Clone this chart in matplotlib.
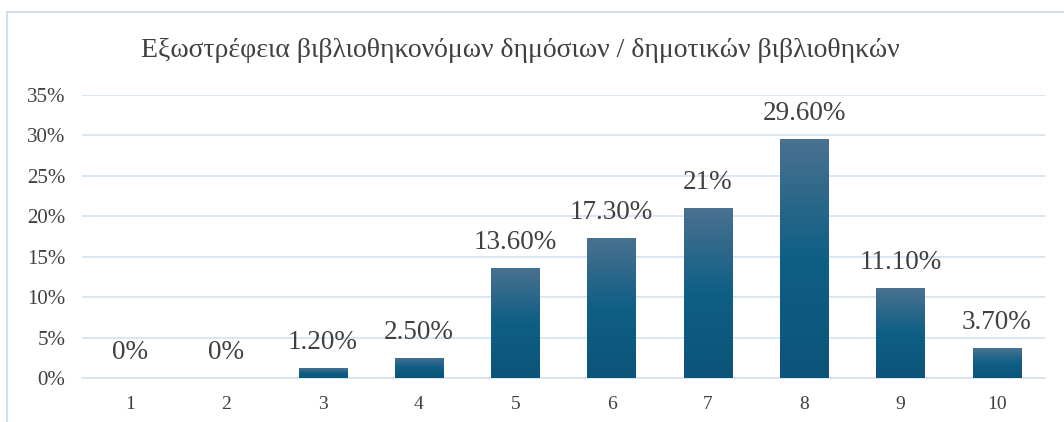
import matplotlib
matplotlib.use("Agg")
import matplotlib.pyplot as plt
import numpy as np
from matplotlib.colors import LinearSegmentedColormap
from matplotlib.patches import Rectangle

# data
categories = ["1", "2", "3", "4", "5", "6", "7", "8", "9", "10"]
values = [0, 0, 1.2, 2.5, 13.6, 17.3, 21, 29.6, 11.1, 3.7]
labels = ["0%", "0%", "1.20%", "2.50%", "13.60%", "17.30%", "21%", "29.60%", "11.10%", "3.70%"]
yticks = [0, 5, 10, 15, 20, 25, 30, 35]
title = "Εξωστρέφεια βιβλιοθηκονόμων δημόσιων / δημοτικών βιβλιοθηκών"

plt.rcParams['font.family'] = ['Liberation Serif', 'DejaVu Serif']
text_col = "#404040"
grid_col = "#d3e2f2"

fig = plt.figure(figsize=(10.64, 4.22), dpi=100)
ax = fig.add_axes([0.077, 0.104, 0.905, 0.671])

# outer frame like the office chart border
fig.patches.append(Rectangle((7 / 1064, -0.1), 1.2, 1.1 - 12 / 422, transform=fig.transFigure,
                             fill=False, edgecolor="#c5d9ee", linewidth=1.2))

x = np.arange(1, len(categories) + 1)
bars = ax.bar(x, values, width=0.5, color="none", zorder=3)

cmap = LinearSegmentedColormap.from_list("grad", ["#0c5479", "#0f5f85", "#4a7190"])
grad = np.linspace(0, 1, 256).reshape(-1, 1)
for b in bars:
    h = b.get_height()
    if h <= 0:
        continue
    x0 = b.get_x()
    im = ax.imshow(grad, extent=[x0, x0 + b.get_width(), 0, h], origin="lower",
                   cmap=cmap, aspect="auto", zorder=3)
    im.set_clip_path(b)

for xi, v, lab in zip(x, values, labels):
    ax.text(xi, v + 1.6, lab, ha="center", va="bottom", fontsize=19.5, color=text_col)

ax.set_xlim(0.5, 10.5)
ax.set_ylim(0, 35)
ax.set_yticks(yticks)
ax.set_yticklabels([f"{t}%" for t in yticks], fontsize=15, color=text_col)
ax.set_xticks(x)
ax.set_xticklabels(categories, fontsize=14, color=text_col)
ax.tick_params(length=0, pad=13)
ax.tick_params(axis="y", pad=12)
ax.grid(axis="y", color=grid_col, linewidth=1.2, zorder=0)
for s in ["top", "right", "left"]:
    ax.spines[s].set_visible(False)
ax.spines["bottom"].set_color(grid_col)
ax.spines["bottom"].set_linewidth(1.2)

fig.text(0.489, 0.88, title, ha="center", va="center", fontsize=20, color="#404040")

fig.savefig("out.png", dpi=100)
